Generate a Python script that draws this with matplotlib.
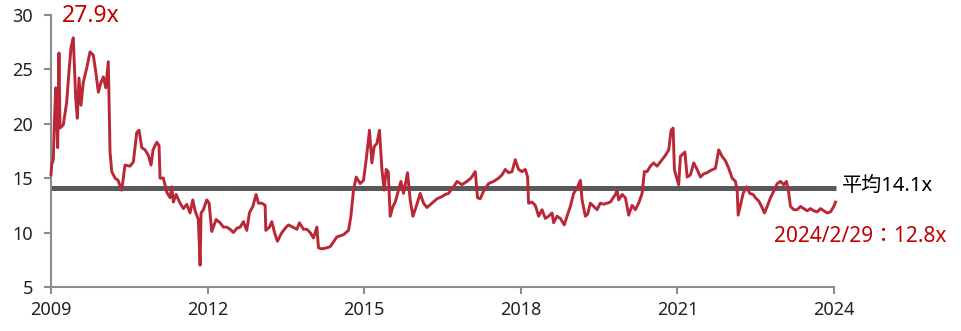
"""Forward P/E history with long-run average line"""

import matplotlib
matplotlib.use("Agg")
import matplotlib.pyplot as plt

# Latin glyphs from Noto Sans, CJK characters fall back to Noto Sans CJK
plt.rcParams['font.family'] = ['Noto Sans', 'Noto Sans CJK TC', 'DejaVu Sans']

# decimal years and P/E multiples
years = [
    2009.000, 2009.013, 2009.044, 2009.063, 2009.090, 2009.128, 2009.153, 2009.173,
    2009.236, 2009.301, 2009.345, 2009.383, 2009.427, 2009.473, 2009.504, 2009.537,
    2009.575, 2009.619, 2009.684, 2009.748, 2009.811, 2009.857, 2009.907, 2009.958,
    2010.003, 2010.049, 2010.098, 2010.131, 2010.164, 2010.227, 2010.284, 2010.355,
    2010.418, 2010.514, 2010.578, 2010.643, 2010.687, 2010.739, 2010.802, 2010.865,
    2010.917, 2010.955, 2011.026, 2011.070, 2011.089, 2011.153, 2011.218, 2011.281,
    2011.314, 2011.344, 2011.396, 2011.473, 2011.536, 2011.601, 2011.664, 2011.716,
    2011.760, 2011.823, 2011.856, 2011.875, 2011.919, 2011.985, 2012.029, 2012.080,
    2012.163, 2012.239, 2012.303, 2012.368, 2012.431, 2012.494, 2012.560, 2012.623,
    2012.686, 2012.751, 2012.801, 2012.866, 2012.929, 2012.974, 2013.039, 2013.102,
    2013.115, 2013.184, 2013.230, 2013.294, 2013.338, 2013.422, 2013.505, 2013.549,
    2013.633, 2013.710, 2013.759, 2013.836, 2013.901, 2013.965, 2014.028, 2014.093,
    2014.124, 2014.189, 2014.285, 2014.348, 2014.476, 2014.603, 2014.699, 2014.745,
    2014.795, 2014.846, 2014.923, 2014.986, 2015.038, 2015.101, 2015.147, 2015.191,
    2015.243, 2015.293, 2015.339, 2015.383, 2015.421, 2015.460, 2015.498, 2015.550,
    2015.594, 2015.657, 2015.703, 2015.753, 2015.830, 2015.881, 2015.933, 2015.996,
    2016.073, 2016.136, 2016.201, 2016.297, 2016.393, 2016.489, 2016.552, 2016.616,
    2016.712, 2016.777, 2016.873, 2016.968, 2017.045, 2017.127, 2017.171, 2017.223,
    2017.286, 2017.382, 2017.478, 2017.574, 2017.639, 2017.702, 2017.766, 2017.831,
    2017.894, 2017.957, 2018.022, 2018.086, 2018.130, 2018.149, 2018.214, 2018.277,
    2018.341, 2018.406, 2018.469, 2018.532, 2018.598, 2018.628, 2018.693, 2018.757,
    2018.833, 2018.885, 2018.948, 2019.012, 2019.088, 2019.140, 2019.173, 2019.236,
    2019.280, 2019.332, 2019.395, 2019.460, 2019.523, 2019.587, 2019.652, 2019.715,
    2019.811, 2019.844, 2019.874, 2019.940, 2020.003, 2020.066, 2020.131, 2020.194,
    2020.257, 2020.323, 2020.367, 2020.419, 2020.482, 2020.545, 2020.610, 2020.706,
    2020.770, 2020.833, 2020.879, 2020.917, 2020.942, 2020.980, 2021.024, 2021.057,
    2021.120, 2021.143, 2021.186, 2021.248, 2021.312, 2021.377, 2021.440, 2021.503,
    2021.568, 2021.632, 2021.728, 2021.791, 2021.856, 2021.919, 2021.983, 2022.048,
    2022.111, 2022.144, 2022.163, 2022.207, 2022.259, 2022.322, 2022.385, 2022.450,
    2022.494, 2022.558, 2022.622, 2022.667, 2022.719, 2022.782, 2022.845, 2022.911,
    2022.974, 2023.037, 2023.089, 2023.133, 2023.165, 2023.229, 2023.294, 2023.357,
    2023.420, 2023.485, 2023.549, 2023.612, 2023.677, 2023.740, 2023.804, 2023.869,
    2023.932, 2023.995, 2024.028,
]
pe = [
    15.3, 16.2, 16.7, 19.9, 23.3, 17.8, 26.5, 19.6,
    19.9, 22.0, 24.8, 27.0, 27.9, 22.4, 20.5, 24.2,
    21.7, 23.8, 25.1, 26.6, 26.3, 24.8, 22.9, 23.8,
    24.3, 23.3, 25.7, 17.4, 15.6, 15.0, 14.8, 13.9,
    16.2, 16.1, 16.5, 19.2, 19.4, 17.8, 17.6, 17.1,
    16.2, 17.6, 18.3, 18.0, 15.0, 15.0, 13.7, 13.2,
    14.2, 12.8, 13.5, 12.7, 12.2, 12.6, 11.8, 13.0,
    12.0, 11.2, 7.0, 11.8, 12.1, 13.0, 12.7, 10.1,
    11.2, 10.9, 10.5, 10.5, 10.3, 10.0, 10.4, 10.5,
    11.0, 10.2, 11.8, 12.4, 13.5, 12.7, 12.7, 12.5,
    10.2, 10.5, 11.0, 9.8, 9.2, 10.0, 10.5, 10.7,
    10.5, 10.3, 10.9, 10.3, 10.3, 10.0, 9.5, 10.5,
    8.6, 8.5, 8.6, 8.7, 9.6, 9.8, 10.2, 11.5,
    13.9, 15.1, 14.5, 14.8, 16.7, 19.4, 16.4, 17.9,
    18.2, 19.4, 15.8, 13.9, 15.8, 15.6, 11.5, 12.4,
    12.8, 13.9, 14.7, 13.6, 15.5, 13.0, 11.5, 12.4,
    13.6, 12.7, 12.3, 12.7, 13.1, 13.3, 13.5, 13.6,
    14.2, 14.7, 14.4, 14.7, 15.0, 15.6, 13.2, 13.1,
    13.8, 14.5, 14.7, 15.0, 15.3, 15.8, 15.5, 15.6,
    16.7, 15.8, 15.6, 15.8, 15.1, 12.7, 12.8, 12.5,
    11.5, 12.1, 11.3, 11.5, 11.8, 10.9, 11.5, 11.3,
    10.7, 11.5, 12.4, 13.6, 14.2, 14.8, 13.0, 11.5,
    11.7, 12.7, 12.4, 12.1, 12.7, 12.6, 12.7, 12.8,
    13.5, 13.9, 13.0, 13.5, 13.2, 11.6, 12.5, 12.1,
    12.7, 13.6, 15.6, 15.6, 16.1, 16.4, 16.1, 16.7,
    17.1, 17.6, 19.4, 19.6, 15.8, 15.1, 14.4, 17.0,
    17.3, 17.4, 15.1, 15.3, 16.4, 15.8, 15.1, 15.4,
    15.5, 15.7, 15.9, 17.6, 17.0, 16.6, 15.9, 15.0,
    14.7, 13.9, 11.6, 12.5, 13.6, 14.2, 13.6, 13.5,
    13.2, 12.9, 12.3, 11.8, 12.4, 13.2, 13.8, 14.5,
    14.7, 14.4, 14.7, 13.6, 12.4, 12.1, 12.1, 12.4,
    12.2, 12.0, 12.2, 12.0, 11.9, 12.2, 12.0, 11.8,
    11.9, 12.4, 12.8,
]
avg_pe = 14.1
x_ticks = [2009, 2012, 2015, 2018, 2021, 2024]
y_ticks = [5, 10, 15, 20, 25, 30]
peak_label = "27.9x"
avg_label = "平均14.1x"
last_label = "2024/2/29：12.8x"

red = '#BA2838'
label_red = '#C00000'
axis_gray = '#8C8C8C'

fig = plt.figure(figsize=(9.62, 3.31), dpi=100)
ax = fig.add_axes([0.053, 0.133, 0.814, 0.822])

ax.plot(years, pe, color=red, linewidth=2.1, clip_on=False, zorder=3)
ax.plot([years[0], years[-1]], [avg_pe, avg_pe], color='#595959', linewidth=3.6,
        solid_capstyle='butt', clip_on=False, zorder=2)

ax.set_xlim(2009, 2024)
ax.set_ylim(5, 30)
ax.set_xticks(x_ticks)
ax.set_yticks(y_ticks)

for side in ['top', 'right']:
    ax.spines[side].set_visible(False)
for side in ['left', 'bottom']:
    ax.spines[side].set_color(axis_gray)
    ax.spines[side].set_linewidth(1.5)

ax.tick_params(axis='both', colors=axis_gray, length=5, width=1.5, labelsize=13,
               labelcolor='#222222')
ax.tick_params(axis='x', pad=5)
ax.tick_params(axis='y', pad=8)

ax.text(2009.2, 29.9, peak_label, color=label_red, fontsize=16.5, ha='left', va='center')
ax.text(2024.15, avg_pe + 0.2, avg_label, color='black', fontsize=14.5, ha='left',
        va='center', clip_on=False)
ax.text(2024.5, 9.6, last_label, color=label_red, fontsize=15, ha='center',
        va='center', clip_on=False)

fig.savefig('out.png', dpi=100)
